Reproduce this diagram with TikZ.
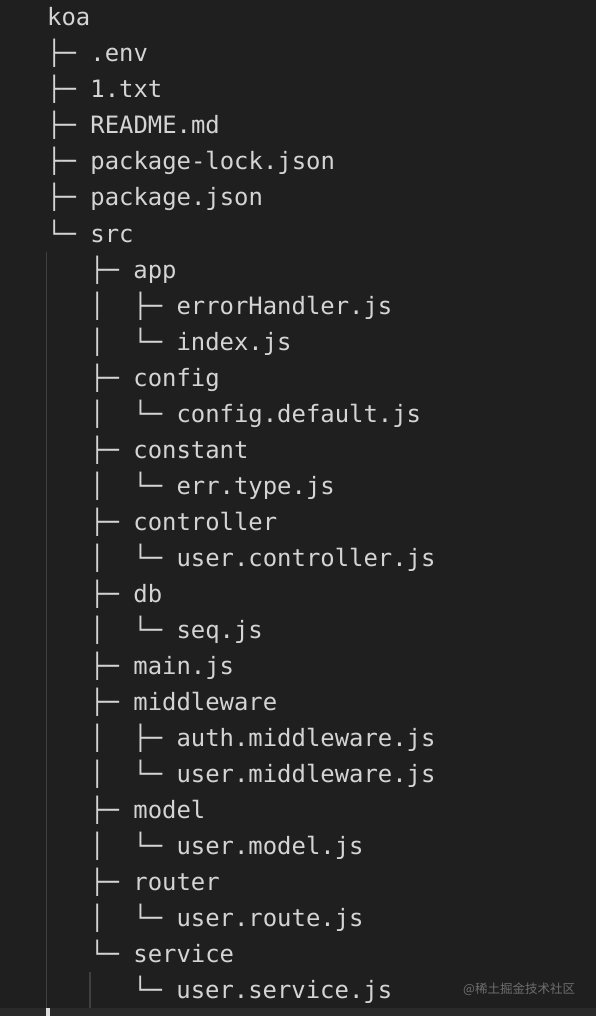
\documentclass[tikz,border=0pt]{standalone}
\usepackage{fontspec}
\setmonofont{DejaVu Sans Mono}
\newfontfamily\cjkfont{Noto Sans CJK SC}
\definecolor{bg}{HTML}{1F1F1F}
\definecolor{fg}{HTML}{D4D4D4}
\definecolor{guide}{HTML}{404040}
\definecolor{band}{HTML}{2A2A2A}
\definecolor{wm}{HTML}{6E6E6E}
\tikzset{
  ln/.style={anchor=base west, inner sep=0pt, text=fg, font=\ttfamily\fontsize{23.9}{24}\selectfont},
  guideline/.style={draw=guide, line width=1.2pt},
}
\begin{document}
\begin{tikzpicture}[x=1pt,y=-1pt]
\fill[bg] (0,0) rectangle (596,1016);
\useasboundingbox (0,0) rectangle (596,1016);
% indent guides and bottom band
\fill[band] (0,1008) rectangle (596,1016);
\coordinate (g1a) at (46.7,252);
\coordinate (g1b) at (46.7,1008);
\coordinate (g2a) at (90,972);
\coordinate (g2b) at (90,1008);
\draw[guideline] (g1a) -- (g1b);
\draw[guideline] (g2a) -- (g2b);
\fill[fg!80] (46,1008) rectangle (50,1016);
% tree lines
\node[ln] (r0) at (47,26) {koa};
\node[ln] (r1) at (47,62) {├─ .env};
\node[ln] (r2) at (47,98) {├─ 1.txt};
\node[ln] (r3) at (47,134) {├─ README.md};
\node[ln] (r4) at (47,170) {├─ package-lock.json};
\node[ln] (r5) at (47,206) {├─ package.json};
\node[ln] (r6) at (47,242) {└─ src};
\node[ln] (r7) at (90,278) {├─ app};
\node[ln] (r8) at (90,314) {│\ \ ├─ errorHandler.js};
\node[ln] (r9) at (90,350) {│\ \ └─ index.js};
\node[ln] (r10) at (90,386) {├─ config};
\node[ln] (r11) at (90,422) {│\ \ └─ config.default.js};
\node[ln] (r12) at (90,458) {├─ constant};
\node[ln] (r13) at (90,494) {│\ \ └─ err.type.js};
\node[ln] (r14) at (90,530) {├─ controller};
\node[ln] (r15) at (90,566) {│\ \ └─ user.controller.js};
\node[ln] (r16) at (90,602) {├─ db};
\node[ln] (r17) at (90,638) {│\ \ └─ seq.js};
\node[ln] (r18) at (90,674) {├─ main.js};
\node[ln] (r19) at (90,710) {├─ middleware};
\node[ln] (r20) at (90,746) {│\ \ ├─ auth.middleware.js};
\node[ln] (r21) at (90,782) {│\ \ └─ user.middleware.js};
\node[ln] (r22) at (90,818) {├─ model};
\node[ln] (r23) at (90,854) {│\ \ └─ user.model.js};
\node[ln] (r24) at (90,890) {├─ router};
\node[ln] (r25) at (90,926) {│\ \ └─ user.route.js};
\node[ln] (r26) at (90,962) {└─ service};
\node[ln] (r27) at (133,998) {└─ user.service.js};
% watermark
\node[anchor=base west, inner sep=0pt, text=wm, font=\cjkfont\fontsize{12.5}{14}\selectfont] (wm) at (463,993) {@稀土掘金技术社区};
\end{tikzpicture}
\end{document}
